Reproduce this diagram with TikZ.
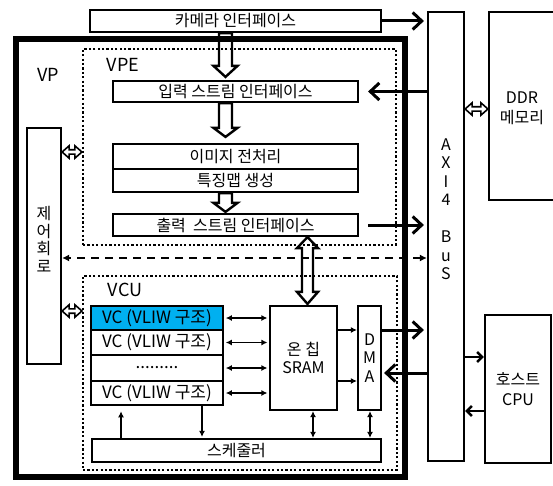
\documentclass[tikz,border=0pt]{standalone}
\usepackage{fontspec}
\setmainfont{Noto Sans CJK KR}
\usetikzlibrary{arrows.meta,calc}
\definecolor{vccyan}{RGB}{0,176,240}

% hollow single arrow pointing down: #1 start, #2 tip, #3 head length
\newcommand\hollowdown[3]{%
  \draw[hollowarr] let \p1=#1, \p2=#2 in
   (\x1-6.5pt,\y1) -- (\x1+6.5pt,\y1) -- (\x1+6.5pt,\y2+#3) -- (\x1+12pt,\y2+#3)
   -- (\x1,\y2) -- (\x1-12pt,\y2+#3) -- (\x1-6.5pt,\y2+#3) -- cycle;}
% hollow double arrow, vertical: #1 top tip, #2 bottom tip
\newcommand\hollowvdbl[2]{%
  \draw[hollowarr] let \p1=#1, \p2=#2 in
   (\x1,\y1) -- (\x1+10.5pt,\y1-11pt) -- (\x1+5.5pt,\y1-11pt) -- (\x1+5.5pt,\y2+12pt)
   -- (\x1+10.5pt,\y2+12pt) -- (\x1,\y2) -- (\x1-10.5pt,\y2+12pt) -- (\x1-5.5pt,\y2+12pt)
   -- (\x1-5.5pt,\y1-11pt) -- (\x1-10.5pt,\y1-11pt) -- cycle;}
% small hollow double arrow, horizontal: #1 left tip, #2 right tip
\newcommand\hollowhdbl[2]{%
  \draw[hollowsmall] let \p1=#1, \p2=#2 in
   (\x1,\y1) -- (\x1+7pt,\y1+6.2pt) -- (\x1+7pt,\y1+2.2pt) -- (\x2-7pt,\y1+2.2pt)
   -- (\x2-7pt,\y1+6.2pt) -- (\x2,\y1) -- (\x2-7pt,\y1-6.2pt) -- (\x2-7pt,\y1-2.2pt)
   -- (\x1+7pt,\y1-2.2pt) -- (\x1+7pt,\y1-6.2pt) -- cycle;}

\begin{document}
\begin{tikzpicture}[x=1pt,y=-1pt,
  box/.style={draw, line width=2.2pt, inner sep=0pt, fill=white,
              font=\fontsize{16}{19}\selectfont},
  vcbox/.style={box, line width=2.6pt, minimum width=132pt, font=\fontsize{17}{20}\selectfont},
  dotbox/.style={draw, line width=2.2pt, dash pattern=on 2.2pt off 2.2pt, inner sep=0pt},
  lbl/.style={font=\fontsize{18}{21}\selectfont, inner sep=0pt},
  vtext/.style={inner sep=0pt, align=center, font=\fontsize{16}{18.5}\selectfont},
  thickarr/.style={line width=3pt, -{Straight Barb[length=9pt,width=17pt]}},
  thinarr/.style={line width=1.2pt, -{Latex[length=6pt,width=6pt]}},
  thindbl/.style={line width=1.2pt, {Latex[length=6pt,width=6pt]}-{Latex[length=6pt,width=6pt]}},
  hostarr/.style={line width=2.5pt, -{Straight Barb[length=5pt,width=10pt]}},
  dasharr/.style={line width=1.6pt, dash pattern=on 8pt off 6pt,
                  {Latex[length=7pt,width=7pt]}-{Latex[length=7pt,width=7pt]}},
  hollowarr/.style={draw, line width=2.4pt, line join=miter},
  hollowsmall/.style={draw, line width=1.6pt},
]
\useasboundingbox (0,0) rectangle (553,486);
\clip (0,0) rectangle (553,486);

% helper coordinates
\coordinate (colA) at (225.5,0);
\coordinate (colB) at (307.5,0);
\coordinate (c121) at (121,0);
\coordinate (c202) at (202,0);
\coordinate (c313) at (313,0);
\coordinate (c370) at (370,0);
\coordinate (r109) at (0,109);
\coordinate (r152) at (0,152);
\coordinate (r258) at (0,258);
\coordinate (r311) at (0,311);
\coordinate (r330) at (0,330);
\coordinate (r373) at (0,373);
\coordinate (r381) at (0,381);
\coordinate (r357) at (0,357);
\coordinate (r411) at (0,411);

% outer blocks
\node[box, minimum width=291pt, minimum height=22pt] (cam) at (235.5,21) {카메라 인터페이스};
\node[box, minimum width=36pt, minimum height=449pt] (axi) at (446,236.5) {};
\node[vtext] (axitxt) at (446,209) {A\\X\\I\\4\\[18.5pt]B\\u\\S};
\node[box, minimum width=70pt, minimum height=188pt] (ddr) at (524,106) {};
\node[vtext, font=\fontsize{16}{20}\selectfont] (ddrtxt) at (522,108) {DDR\\메모리};
\node[box, minimum width=66pt, minimum height=148pt, align=center,
      font=\fontsize{16}{19.5}\selectfont] (host) at (518,389) {호스트\\CPU};

% VP frame and sub-units
\node[dotbox, minimum width=313pt, minimum height=196pt] (vpe) at (239.5,147) {};
\node[dotbox, minimum width=314pt, minimum height=194pt] (vcu) at (240,373) {};
\node[lbl] (vplbl) at (48.5,74.5) {VP};
\node[lbl] (vpelbl) at (123,65) {VPE};
\node[lbl] (vculbl) at (125,289.5) {VCU};

\node[box, minimum width=245pt, minimum height=21pt] (inp) at (235.5,91.5) {입력 스트림 인터페이스};
\node[box, minimum width=245pt, minimum height=25pt] (pre1) at (235.5,156.5) {이미지 전처리};
\node[box, minimum width=245pt, minimum height=23pt] (pre2) at (235.5,180.5) {특징맵 생성};
\node[box, minimum width=245pt, minimum height=22pt] (out) at (235.5,225) {출력\ \ 스트림 인터페이스};

\node[box, minimum width=34pt, minimum height=236pt] (ctrl) at (44,246) {};
\node[vtext, font=\fontsize{16}{17.7}\selectfont] (ctrltxt) at (44,239.5) {제\\어\\회\\로};

\node[vcbox, fill=vccyan, minimum height=24pt] (vc1) at (157,318) {VC (VLIW 구조)};
\node[vcbox, minimum height=25pt] (vc2) at (157,342.5) {VC (VLIW 구조)};
\node[vcbox, minimum height=26pt] (vc3) at (157,368) {.........};
\node[vcbox, minimum height=24pt] (vc4) at (157,393) {VC (VLIW 구조)};
\node[box, minimum width=67pt, minimum height=104pt, align=center,
      font=\fontsize{16}{18.5}\selectfont] (sram) at (303.5,358) {온 칩\\SRAM};
\node[box, minimum width=23pt, minimum height=104pt, align=center,
      font=\fontsize{16}{18.5}\selectfont] (dma) at (369.5,358) {D\\M\\A};
\node[box, minimum width=289pt, minimum height=23pt] (sch) at (236.5,450.5) {스케줄러};

% hollow arrows
\hollowdown{(cam.south -| colA)}{($(inp.north -| colA)+(0,-3)$)}{11pt}
\hollowdown{(inp.south -| colA)}{($(pre1.north -| colA)+(0,-6)$)}{9pt}
\hollowdown{(pre2.south -| colA)}{($(out.north -| colA)+(0,-1)$)}{9pt}
\hollowvdbl{(out.south -| colB)}{($(sram.north -| colB)+(0,-1)$)}
\hollowhdbl{(ctrl.east |- r152)}{(vpe.west |- r152)}
\hollowhdbl{(ctrl.east |- r311)}{(vcu.west |- r311)}
\hollowhdbl{(axi.east |- r109)}{(ddr.west |- r109)}

% VP thick frame
\node[draw, line width=6pt, minimum width=389pt, minimum height=438pt, inner sep=0pt] (vp) at (210.5,258) {};

% thick bus arrows
\draw[thickarr, shorten >=3pt] (cam.east) -- (axi.west |- cam.east);
\draw[thickarr, shorten >=9pt] (axi.west |- inp.east) -- (inp.east);
\draw[thickarr, shorten <=9pt, shorten >=3pt] (out.east) -- (axi.west |- out.east);
\draw[thickarr, shorten >=3pt] (dma.east |- r330) -- (axi.west |- r330);
\draw[thickarr, shorten >=2pt] (axi.west |- r373) -- (dma.east |- r373);

% dashed control line
\draw[dasharr] (axi.west |- r258) -- (ctrl.east |- r258);

% VCU internal arrows
\foreach \v in {vc1,vc2,vc3,vc4}
  \draw[thindbl, shorten <=1.5pt, shorten >=1.5pt] (\v.east) -- (sram.west |- \v.east);
\draw[thinarr] (sram.east |- r330) -- (dma.west |- r330);
\draw[thinarr] (sram.east |- r381) -- (dma.west |- r381);
\draw[thinarr, shorten >=5pt] (sch.north -| c121) -- (vc4.south -| c121);
\draw[thinarr, shorten >=1pt] (vc4.south -| c202) -- (sch.north -| c202);
\draw[thindbl] (sram.south -| c313) -- (sch.north -| c313);
\draw[thindbl] (dma.south -| c370) -- (sch.north -| c370);

% host arrows
\draw[hostarr] (axi.east |- r357) -- (host.west |- r357);
\draw[hostarr] (host.west |- r411) -- (axi.east |- r411);
\end{tikzpicture}
\end{document}
